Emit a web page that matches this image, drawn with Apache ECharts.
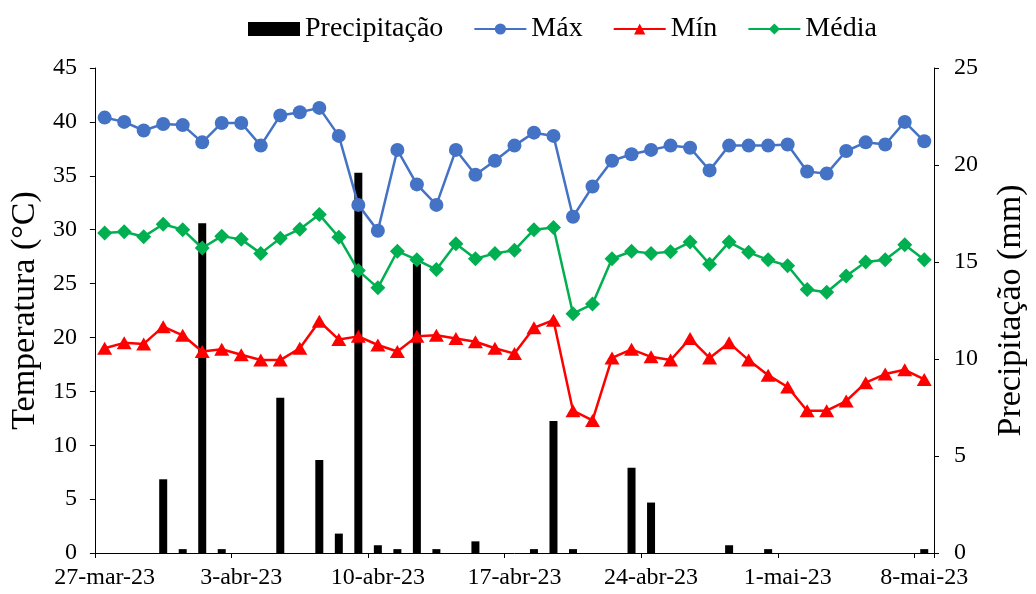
<!DOCTYPE html>
<html>
<head>
<meta charset="utf-8">
<script src="https://cdn.jsdelivr.net/npm/echarts@6/dist/echarts.min.js"></script>
<style>html,body{margin:0;padding:0;background:#fff;overflow:hidden;}#c{position:absolute;left:0;top:0;width:1036px;height:594px;}</style>
</head>
<body>
<div id="c"></div>
<script>
var dates = ['27-mar-23','28-mar-23','29-mar-23','30-mar-23','31-mar-23',
  '1-abr-23','2-abr-23','3-abr-23','4-abr-23','5-abr-23','6-abr-23','7-abr-23','8-abr-23','9-abr-23','10-abr-23',
  '11-abr-23','12-abr-23','13-abr-23','14-abr-23','15-abr-23','16-abr-23','17-abr-23','18-abr-23','19-abr-23','20-abr-23',
  '21-abr-23','22-abr-23','23-abr-23','24-abr-23','25-abr-23','26-abr-23','27-abr-23','28-abr-23','29-abr-23','30-abr-23',
  '1-mai-23','2-mai-23','3-mai-23','4-mai-23','5-mai-23','6-mai-23','7-mai-23','8-mai-23'];

var precipitacao = [0, 0, 0, 3.8, 0.2, 17.0, 0.2, 0, 0, 8.0,
  0, 4.8, 1.0, 19.6, 0.4, 0.2, 14.9, 0.2, 0, 0.6,
  0, 0, 0.2, 6.8, 0.2, 0, 0, 4.4, 2.6, 0,
  0, 0, 0.4, 0, 0.2, 0, 0, 0, 0, 0,
  0, 0, 0.2];

var tmax = [40.4, 40.0, 39.2, 39.8, 39.7, 38.1, 39.9, 39.9, 37.8, 40.6,
  40.9, 41.3, 38.7, 32.3, 29.9, 37.4, 34.2, 32.3, 37.4, 35.1,
  36.4, 37.8, 39.0, 38.7, 31.2, 34.0, 36.4, 37.0, 37.4, 37.8,
  37.6, 35.5, 37.8, 37.8, 37.8, 37.9, 35.4, 35.2, 37.3, 38.1,
  37.9, 40.0, 38.2];

var tmin = [19.0, 19.5, 19.4, 21.0, 20.2, 18.7, 18.9, 18.4, 17.9, 17.9,
  19.0, 21.5, 19.8, 20.1, 19.3, 18.7, 20.1, 20.2, 19.9, 19.6,
  19.0, 18.5, 20.9, 21.6, 13.2, 12.3, 18.1, 18.9, 18.2, 17.9,
  19.9, 18.1, 19.5, 17.9, 16.5, 15.4, 13.2, 13.2, 14.1, 15.8,
  16.6, 17.0, 16.1];

var tmed = [29.7, 29.8, 29.35, 30.5, 30.0, 28.3, 29.4, 29.1, 27.8, 29.2,
  30.05, 31.4, 29.3, 26.2, 24.6, 28.0, 27.2, 26.3, 28.7, 27.3,
  27.8, 28.1, 30.0, 30.2, 22.2, 23.1, 27.3, 28.0, 27.8, 27.95,
  28.85, 26.8, 28.85, 27.9, 27.2, 26.65, 24.45, 24.2, 25.7, 27.0,
  27.2, 28.6, 27.2];

var FONT = 'Liberation Serif, Times New Roman, serif';
var chart = echarts.init(document.getElementById('c'), null, {renderer: 'canvas', width: 1036, height: 594});
var axisBase = {
  axisLine: {show: true, lineStyle: {color: '#000', width: 1}},
  axisTick: {show: true, inside: false, length: 5, lineStyle: {color: '#000'}},
  splitLine: {show: false}
};
chart.setOption({
  animation: false,
  backgroundColor: '#fff',
  textStyle: {fontFamily: FONT, color: '#000'},
  legend: {
    left: 243, top: 10,
    itemWidth: 52, itemHeight: 14, itemGap: 30,
    textStyle: {fontFamily: FONT, fontSize: 28, color: '#000', lineHeight: 28},
    data: [{name: 'Precipitação', icon: 'rect'}, 'Máx', 'Mín', 'Média']
  },
  grid: {left: 91, right: 91, top: 68, bottom: 41, containLabel: false},
  xAxis: Object.assign({}, axisBase, {
    type: 'category',
    data: dates,
    boundaryGap: true,
    axisTick: {show: true, interval: 6, length: 5, lineStyle: {color: '#000'}},
    axisLabel: {interval: 6, fontFamily: FONT, fontSize: 24, color: '#000', margin: 13}
  }),
  yAxis: [
    Object.assign({}, axisBase, {
      type: 'value', min: 0, max: 45, interval: 5,
      name: 'Temperatura (°C)', nameLocation: 'middle', nameGap: 51,
      nameTextStyle: {fontFamily: FONT, fontSize: 34, color: '#000'},
      axisLabel: {fontFamily: FONT, fontSize: 24, color: '#000', margin: 18}
    }),
    Object.assign({}, axisBase, {
      type: 'value', min: 0, max: 25, interval: 5, position: 'right',
      name: 'Precipitação (mm)', nameLocation: 'middle', nameGap: 60,
      nameTextStyle: {fontFamily: FONT, fontSize: 34, color: '#000'},
      axisLabel: {fontFamily: FONT, fontSize: 24, color: '#000', margin: 20}
    })
  ],
  series: [
    {
      name: 'Precipitação', type: 'bar', yAxisIndex: 1, data: precipitacao,
      barWidth: 8, itemStyle: {color: '#000'}, z: 1
    },
    {
      name: 'Máx', type: 'line', data: tmax, symbol: 'circle', symbolSize: 14, showAllSymbol: true,
      lineStyle: {color: '#4472C4', width: 2.5}, itemStyle: {color: '#4472C4'}, z: 3
    },
    {
      name: 'Mín', type: 'line', data: tmin, symbol: 'triangle', symbolSize: [15, 13], showAllSymbol: true,
      lineStyle: {color: '#FF0000', width: 2.5}, itemStyle: {color: '#FF0000'}, z: 3
    },
    {
      name: 'Média', type: 'line', data: tmed, symbol: 'diamond', symbolSize: 15, showAllSymbol: true,
      lineStyle: {color: '#00B050', width: 2.5}, itemStyle: {color: '#00B050'}, z: 3
    }
  ]
});
</script>
</body>
</html>
